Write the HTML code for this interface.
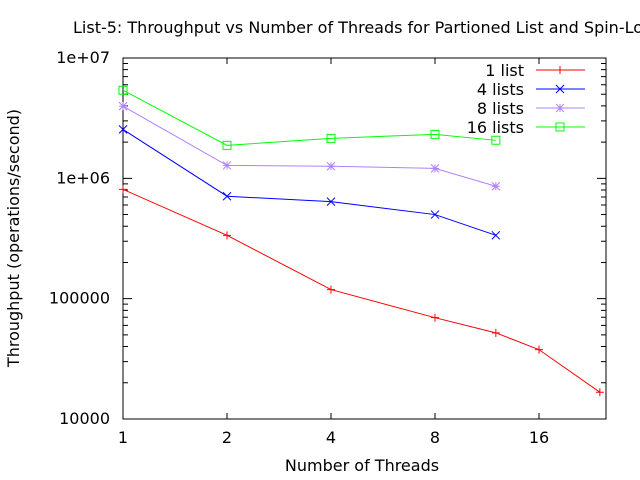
<!DOCTYPE html>
<html><head><meta charset="utf-8"><style>
body{margin:0;background:#fff}
svg{display:block;font-family:"DejaVu Sans","Liberation Sans",sans-serif;font-size:16px}
</style></head><body>
<svg id="chart" width="640" height="480" viewBox="0 0 640 480">
<text x="73" y="33">List-5: Throughput vs Number of Threads for Partioned List and Spin-Lock</text>
<text x="362" y="471" text-anchor="middle">Number of Threads</text>
<text transform="translate(19,238) rotate(-90)" text-anchor="middle">Throughput (operations/second)</text>
<rect x="123" y="58" width="483" height="361" fill="none" stroke="#000" stroke-width="1"/>
<g id="axes"></g>
<g id="series"></g>
<g id="legend"></g>
</svg>
<script>
const threads1 = [1,2,4,8,12,16,24];
const list1 = [810000,336000,119000,69500,52000,37700,16700];
const threadsN = [1,2,4,8,12];
const list4 = [2550000,710000,640000,500000,336000];
const list8 = [3980000,1280000,1260000,1210000,860000];
const list16 = [5400000,1880000,2150000,2320000,2070000];
const xTicks = [1,2,4,8,16];
const yTicks = [10000,100000,1000000,10000000];
const yTickLabels = ["10000","100000","1e+06","1e+07"];

const NS="http://www.w3.org/2000/svg";
const X0=123,X1=606,Y0=419,Y1=58;
const xs=v=>X0+104*Math.log2(v);
const ys=v=>Y0-(Math.log10(v)-4)*(Y0-Y1)/3;
function mk(tag,attrs,parent){const e=document.createElementNS(NS,tag);for(const k in attrs)e.setAttribute(k,attrs[k]);parent.appendChild(e);return e;}
const axes=document.getElementById('axes');
xTicks.forEach(t=>{
  const x=xs(t);
  const l=mk('path',{d:`M${x},${Y0}v-6M${x},${Y1}v6`,stroke:'#000'},axes);
  
  
  const tx=mk('text',{x:x,y:Y0+24,'text-anchor':'middle'},axes);tx.textContent=t;
  
  
});
yTicks.forEach((t,i)=>{
  const y=ys(t);
  const l=mk('path',{d:`M${X0},${y}h9M${X1},${y}h-9`,stroke:'#000'},axes);
  
  
  const tx=mk('text',{x:X0-13,y:y+5,'text-anchor':'end'},axes);tx.textContent=yTickLabels[i];
  
  
  if(i<yTicks.length-1){for(let m=2;m<10;m++){const ym=ys(t*m);
    const ml=mk('path',{d:`M${X0},${ym}h5M${X1},${ym}h-5`,stroke:'#000'},axes);
    
    }}
});
function marker(g,type,x,y,c){
  let d;
  if(type==='plus')d=`M${x-4},${y}h8M${x},${y-4}v8`;
  else if(type==='cross')d=`M${x-4},${y-4}l8,8M${x-4},${y+4}l8,-8`;
  else if(type==='star')d=`M${x-4},${y}h8M${x},${y-4}v8M${x-4},${y-4}l8,8M${x-4},${y+4}l8,-8`;
  else d=`M${x-4},${y-4}h8v8h-8z`;
  const p=mk('path',{d:d,stroke:c,fill:'none'},g);
  
  
}
const series=[
 {name:'1 list',xv:threads1,yv:list1,c:'#ff0000',m:'plus',id:'series-1-list'},
 {name:'4 lists',xv:threadsN,yv:list4,c:'#0000ff',m:'cross',id:'series-4-lists'},
 {name:'8 lists',xv:threadsN,yv:list8,c:'#b080ff',m:'star',id:'series-8-lists'},
 {name:'16 lists',xv:threadsN,yv:list16,c:'#00ff00',m:'square',id:'series-16-lists'}];
const sg=document.getElementById('series'),lg=document.getElementById('legend');
series.forEach((s,i)=>{
  const g=mk('g',{},sg);
  
  
  const pts=s.xv.map((v,j)=>xs(v)+','+ys(s.yv[j])).join(' ');
  const pl=mk('polyline',{points:pts,fill:'none',stroke:s.c},g);
  
  
  s.xv.forEach((v,j)=>marker(g,s.m,xs(v),ys(s.yv[j]),s.c));
  const ly=70+19*i;
  const le=mk('g',{},lg);
  
  
  const t=mk('text',{x:524,y:ly+6,'text-anchor':'end'},le);t.textContent=s.name;
  mk('line',{x1:536,x2:585,y1:ly,y2:ly,stroke:s.c},le);
  marker(le,s.m,560,ly,s.c);
});
</script>
</body></html>
